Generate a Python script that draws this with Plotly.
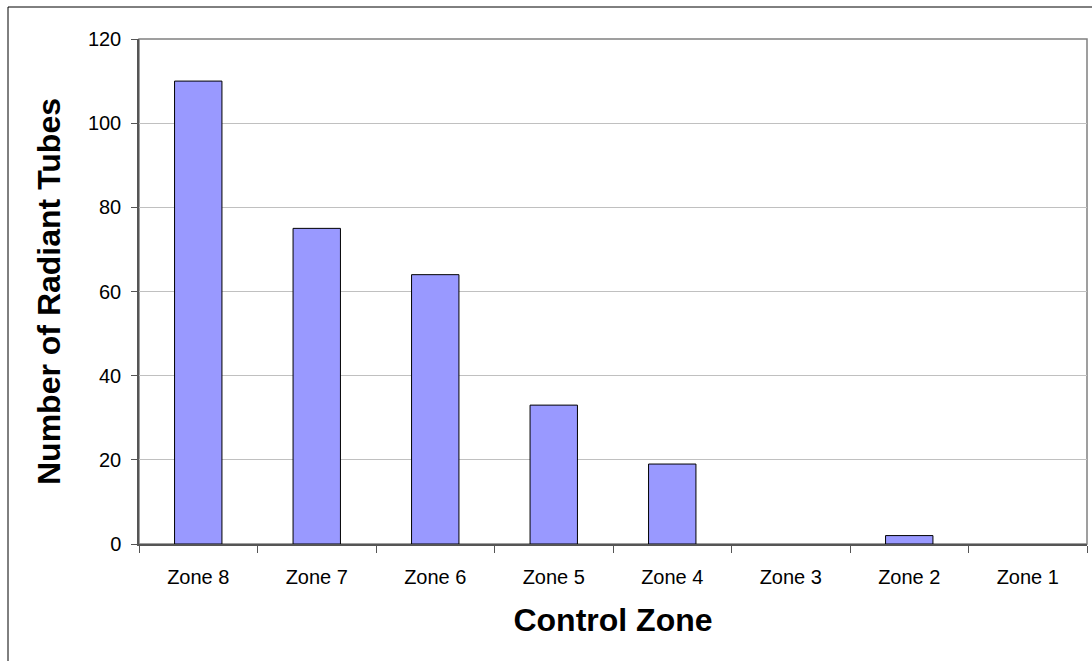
import plotly.graph_objects as go

# Radiant tube count per control zone
zones = ["Zone 8", "Zone 7", "Zone 6", "Zone 5", "Zone 4", "Zone 3", "Zone 2", "Zone 1"]
tube_counts = [110, 75, 64, 33, 19, 0, 2, 0]
y_ticks = [0, 20, 40, 60, 80, 100, 120]

FONT = "Liberation Sans, Arial, sans-serif"
W, H = 1092, 661
L, R, T, B = 139, 5, 39, 117
plot_w = W - L - R
plot_h = H - T - B

# empty zones get no outline so nothing is drawn on the baseline
outline_widths = [1 if v > 0 else 0 for v in tube_counts]

fig = go.Figure(
    go.Bar(
        x=zones,
        y=tube_counts,
        marker=dict(color="#9999FF", line=dict(color="#000000", width=outline_widths)),
        hoverinfo="x+y",
    )
)

fig.update_layout(
    width=W,
    height=H,
    margin=dict(l=L, r=R, t=T, b=B, pad=0),
    paper_bgcolor="white",
    plot_bgcolor="white",
    bargap=0.6,
    showlegend=False,
    font=dict(family=FONT, color="#000000", size=20),
    xaxis=dict(
        type="category",
        tickson="boundaries",
        ticks="outside",
        ticklen=7,
        tickcolor="#555555",
        showline=True,
        linecolor="#555555",
        linewidth=1.5,
        showgrid=False,
        tickfont=dict(size=20),
        ticklabelstandoff=14,
        automargin=False,
        title=dict(text="<b>Control Zone</b>", font=dict(size=32), standoff=22),
    ),
    yaxis=dict(
        range=[0, 120],
        tickvals=y_ticks,
        ticks="outside",
        ticklen=6,
        tickcolor="#555555",
        showline=True,
        linecolor="#555555",
        linewidth=1.5,
        showgrid=True,
        gridcolor="#C0C0C0",
        gridwidth=1,
        zeroline=False,
        tickfont=dict(size=20),
        ticklabelstandoff=6,
        automargin=False,
        title=dict(text="<b>Number of Radiant Tubes</b>", font=dict(size=32), standoff=18),
    ),
    shapes=[
        # plot-area frame
        dict(type="rect", xref="paper", yref="paper", x0=0, y0=0, x1=1, y1=1,
             line=dict(color="#808080", width=1.5), layer="below"),
        # outer chart border
        dict(type="rect", xref="paper", yref="paper",
             x0=(8 - L) / plot_w, y0=(T + plot_h - 670) / plot_h,
             x1=(1100 - L) / plot_w, y1=(T + plot_h - 7) / plot_h,
             line=dict(color="#000000", width=1), layer="below"),
    ],
)

fig.write_html("out.html")
